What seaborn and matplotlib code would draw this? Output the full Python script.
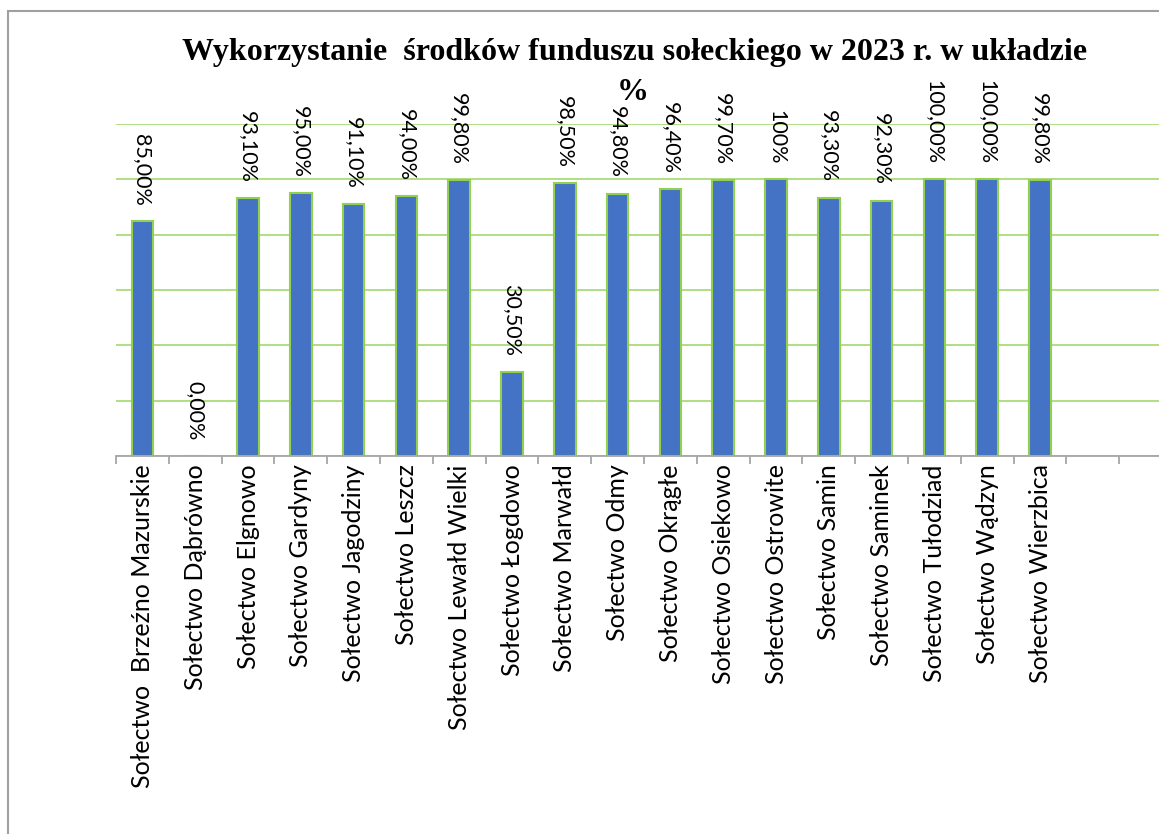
import pandas as pd
import matplotlib.pyplot as plt
import seaborn as sns
from matplotlib.patches import Rectangle
from matplotlib.ticker import MultipleLocator

# data
villages = ['Sołectwo  Brzeźno Mazurskie', 'Sołectwo Dąbrówno', 'Sołectwo Elgnowo',
            'Sołectwo Gardyny', 'Sołectwo Jagodziny', 'Sołectwo Leszcz',
            'Sołectwo Lewałd Wielki', 'Sołectwo Łogdowo', 'Sołectwo Marwałd',
            'Sołectwo Odmy', 'Sołectwo Okrągłe', 'Sołectwo Osiekowo',
            'Sołectwo Ostrowite', 'Sołectwo Samin', 'Sołectwo Saminek',
            'Sołectwo Tułodziad', 'Sołectwo Wądzyn', 'Sołectwo Wierzbica']
usage = [0.85, 0.0, 0.931, 0.95, 0.911, 0.94, 0.998, 0.305, 0.985,
         0.948, 0.964, 0.997, 1.0, 0.933, 0.923, 1.0, 1.0, 0.998]
usage_labels = ['85,00%', '0,00%', '93,10%', '95,00%', '91,10%', '94,00%', '99,80%',
                '30,50%', '98,50%', '94,80%', '96,40%', '99,70%', '100%', '93,30%',
                '92,30%', '100,00%', '100,00%', '99,80%']

df = pd.DataFrame({'village': villages, 'usage': usage})

sns.set_style('white')
plt.rcParams['font.family'] = ['Lato', 'DejaVu Sans']
plt.rcParams['text.color'] = 'black'
plt.rcParams['xtick.color'] = 'black'

W, H = 1159, 834
fig = plt.figure(figsize=(W / 100, H / 100), dpi=100)
slot = 52.8
n_slots = 20
ax = fig.add_axes([116 / W, (H - 456) / H, slot * n_slots / W, 332 / H])

sns.barplot(data=df, x='village', y='usage', color='#4472C4', saturation=1,
            width=0.41, edgecolor='#92D050', linewidth=1.5, ax=ax)

ax.set_xlim(-0.5, n_slots - 0.5)
ax.set_ylim(0, 1.2)
ax.yaxis.set_major_locator(MultipleLocator(0.2))
ax.grid(axis='y', color='#A9DC7A', linewidth=1.3)
ax.set_axisbelow(True)
ax.set_yticklabels([])
ax.tick_params(axis='y', length=0)
for s in ['left', 'right', 'top']:
    ax.spines[s].set_visible(False)
ax.spines['bottom'].set_color('#A6A6A6')
ax.spines['bottom'].set_linewidth(1.3)

# category boundaries as tick marks, labels without ticks
ax.set_xticks(range(len(villages)))
ax.set_xticklabels(villages, rotation=90, fontsize=18, va='top', ha='center', color='black')
ax.set_xticks([i - 0.5 for i in range(n_slots + 1)], minor=True)
ax.tick_params(axis='x', which='minor', bottom=True, length=5.5, width=1.3,
               color='#A6A6A6', direction='out')
ax.tick_params(axis='x', which='major', bottom=False, length=0, pad=6)
ax.set_xlabel('')
ax.set_ylabel('')

for i, (v, lab) in enumerate(zip(usage, usage_labels)):
    ax.annotate(lab, (i, v), xytext=(0, 11), textcoords='offset points',
                rotation=-90, ha='center', va='bottom', fontsize=15.5,
                color='black', annotation_clip=False)

fig.text(635 / W, 1 - 60 / H, 'Wykorzystanie  środków funduszu sołeckiego w 2023 r. w układzie',
         family='Liberation Serif', fontweight='bold', fontsize=23, ha='center', va='baseline')
fig.text(633 / W, 1 - 100 / H, '%', family='Liberation Serif', fontweight='bold',
         fontsize=23, ha='center', va='baseline')

fig.patches.append(Rectangle((8 / W, -0.1), 1.2, 1.1 - 11 / H, transform=fig.transFigure,
                             fill=False, edgecolor='#A0A0A0', linewidth=1.5))

fig.savefig('out.png', dpi=100)
